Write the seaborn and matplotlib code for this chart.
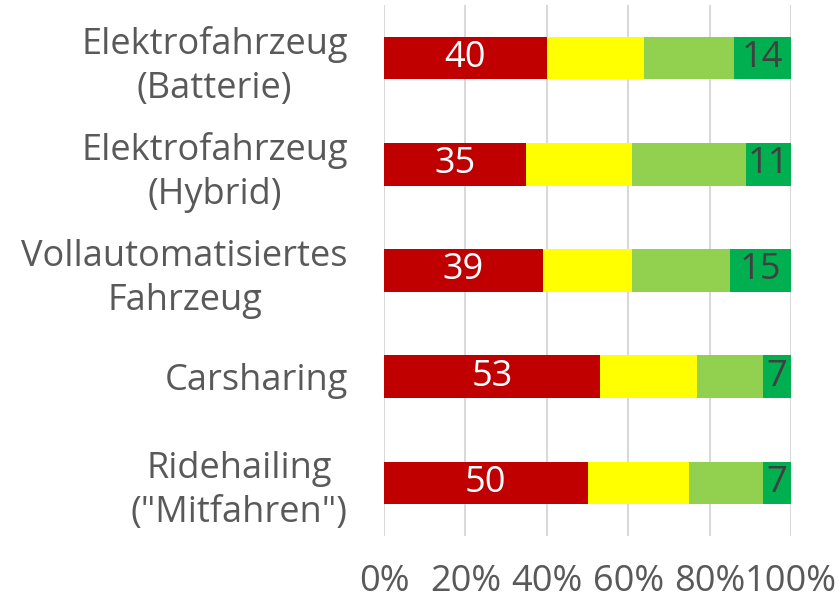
import matplotlib
matplotlib.use("Agg")
import matplotlib.pyplot as plt
import pandas as pd
import seaborn as sb

categories = ["Elektrofahrzeug\n(Batterie)", "Elektrofahrzeug\n(Hybrid)",
              "Vollautomatisiertes\nFahrzeug", "Carsharing",
              "Ridehailing\n(\"Mitfahren\")"]
rot = [40, 35, 39, 53, 50]
gelb = [24, 26, 22, 24, 25]
hellgruen = [22, 28, 24, 16, 18]
gruen = [14, 11, 15, 7, 7]

farben = ["#C00000", "#FFFF00", "#92D050", "#00B050"]

df = pd.DataFrame({"kat": categories, "rot": rot, "gelb": gelb,
                   "hellgruen": hellgruen, "gruen": gruen})
df["c1"] = df["rot"]
df["c2"] = df["c1"] + df["gelb"]
df["c3"] = df["c2"] + df["hellgruen"]
df["c4"] = df["c3"] + df["gruen"]

sb.set_style("white")
plt.rcParams["font.family"] = ["Open Sans", "DejaVu Sans"]

fig = plt.figure(figsize=(8.39, 6), dpi=100)
ax = fig.add_axes([384 / 839, 1 - 536 / 600, 407 / 839, 531 / 600])

# gestapelt: längste Balken zuerst
for spalte, farbe in zip(["c4", "c3", "c2", "c1"], farben[::-1]):
    sb.barplot(x=spalte, y="kat", data=df, color=farbe, width=0.4,
               orient="h", ax=ax, saturation=1, linewidth=0, zorder=3)

for i, row in df.iterrows():
    ax.text(row["rot"] / 2, i, str(row["rot"]), ha="center", va="center",
            color="white", fontsize=26, zorder=5)
    ax.text(row["c3"] + row["gruen"] / 2, i, str(row["gruen"]), ha="center",
            va="center", color="#404040", fontsize=26, zorder=5)

ax.set_xlim(0, 100)
ax.set_ylim(4.5, -0.5)
ax.set_xticks([0, 20, 40, 60, 80, 100])
ax.set_xticklabels(["0%", "20%", "40%", "60%", "80%", "100%"])
ax.grid(axis="x", color="#D9D9D9", linewidth=1.5, zorder=0)
ax.set_axisbelow(True)
ax.set_xlabel("")
ax.set_ylabel("")
for s in ax.spines.values():
    s.set_visible(False)
ax.tick_params(axis="y", length=0, pad=26, labelsize=26, labelcolor="#595959")
ax.tick_params(axis="x", length=0, pad=20, labelsize=26, labelcolor="#595959")
for t in ax.get_yticklabels():
    t.set_multialignment("center")
    t.set_linespacing(1.3)

fig.savefig("out.png", dpi=100)
